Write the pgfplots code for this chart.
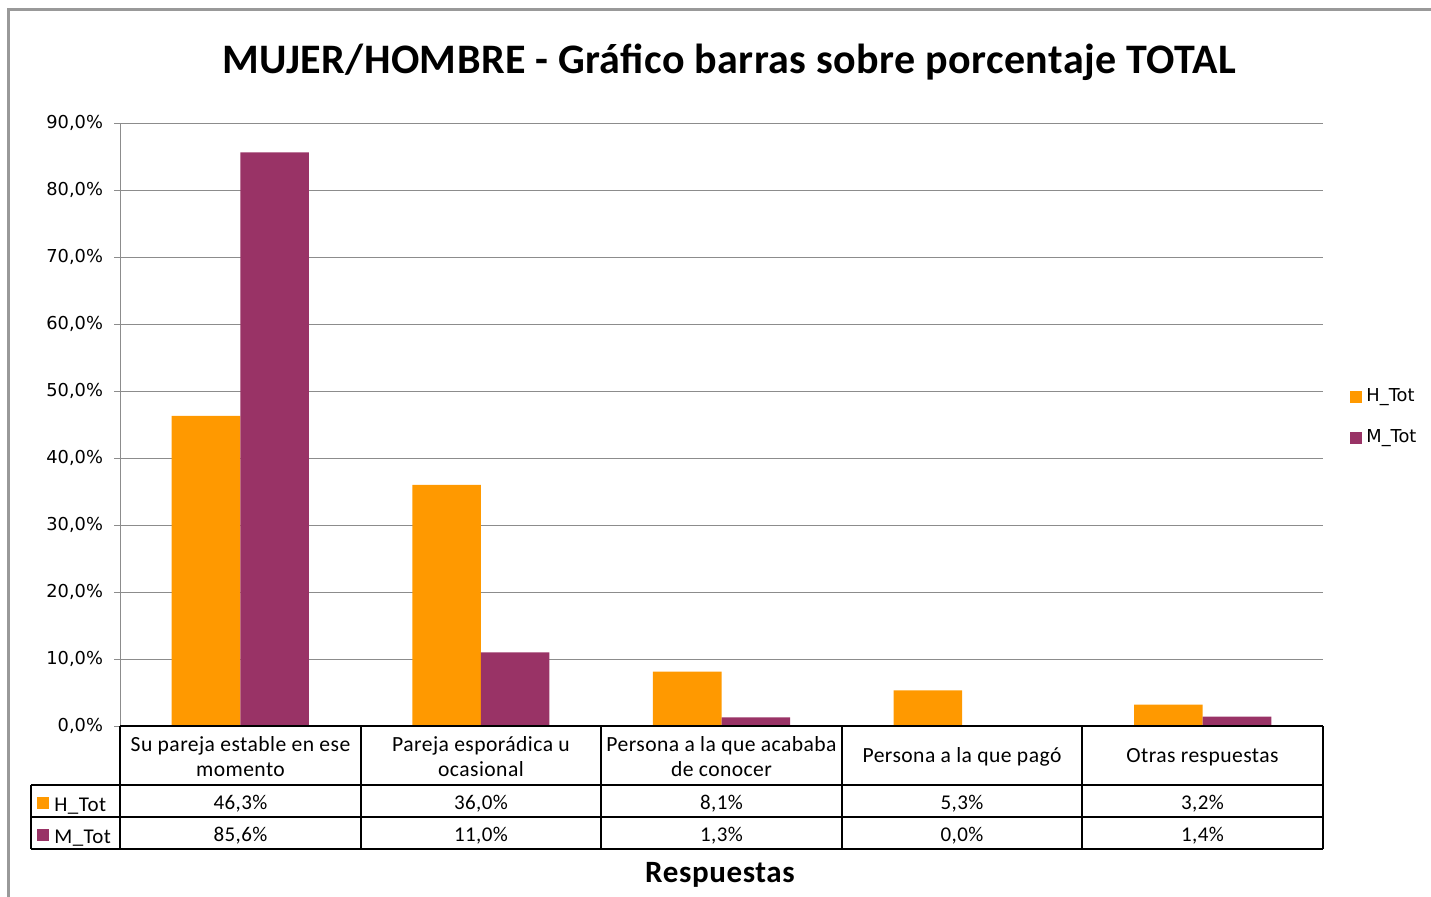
\documentclass[border=0pt]{standalone}
\usepackage{pgfplots}
\pgfplotsset{compat=1.18}
\usepackage{pgfplotstable}
\usepackage{fontspec}
\setmainfont{Carlito}
\newfontfamily\vfont{DejaVu Sans}
\newfontfamily\tfont[LetterSpace=2]{Carlito}
\definecolor{htot}{HTML}{FF9900}
\definecolor{mtot}{HTML}{993366}
\definecolor{framegray}{HTML}{999999}
\definecolor{gridgray}{HTML}{8C8C8C}

% respuestas: H_Tot y M_Tot (%)
\pgfplotstableread{
idx H M
0 46.3 85.6
1 36.0 11.0
2 8.1 1.3
3 5.3 0.0
4 3.2 1.4
}\datos

\begin{document}
\begin{tikzpicture}
% axis box: x 120..1323 px, y 123..726 px (1 px = 0.5pt)
\begin{axis}[
  at={(60pt,85pt)}, anchor=south west,
  scale only axis,
  width=601.5pt, height=301.5pt,
  xmin=-0.5, xmax=4.5,
  ymin=0, ymax=90,
  ybar, bar width=0.285,
  axis x line=none,
  axis y line=left,
  y axis line style={gridgray, -},
  ytick={0,10,...,90},
  ymajorgrids,
  grid style={gridgray, line width=0.5pt},
  tick align=outside,
  major tick length=3pt,
  ytick style={gridgray},
  yticklabel={\pgfmathprintnumber[fixed,fixed zerofill,precision=1,use comma]{\tick}\%},
  yticklabel style={font=\vfont\fontsize{8.9}{10}\selectfont, xshift=-2pt,
    /pgf/number format/assume math mode=true},
  legend style={draw=none, fill=none, at={(1.0225,0.512)}, anchor=west,
    font=\vfont\fontsize{8.9}{10}\selectfont, row sep=8.5pt, inner xsep=0pt},
  legend cell align=left,
  clip=false,
]
\addplot[fill=htot, draw=none, bar shift=-0.1425,
  legend image code/.code={\fill[htot] (0pt,-3pt) rectangle (6pt,3pt);}]
  table[x=idx, y=H] {\datos};
\addplot[fill=mtot, draw=none, bar shift=0.1425,
  legend image code/.code={\fill[mtot] (0pt,-3pt) rectangle (6pt,3pt);}]
  table[x=idx, y=M] {\datos};
\legend{H\_Tot, M\_Tot}
\end{axis}

\begin{scope}[x=0.5pt, y=-0.5pt, yshift=448pt]
\useasboundingbox (0,0) rectangle (1431,896);
% marco exterior
\draw[framegray, line width=1.5pt] (8,905) -- (8,10) -- (1440,10);
% titulo
\node[font=\bfseries\fontsize{21}{24}\selectfont\addfontfeature{LetterSpace=1}] at (729,62)
  {MUJER/HOMBRE - Gráfico barras sobre porcentaje TOTAL};
% tabla de datos
\draw[black, line width=0.7pt] (120,726) -- (1323,726);
\foreach \yy in {785,817,849} \draw[black, line width=0.7pt] (31,\yy) -- (1323,\yy);
\draw[black, line width=0.7pt] (31,785) -- (31,849);
\foreach \xx in {120,361,601,842,1082,1323} \draw[black, line width=0.7pt] (\xx,726) -- (\xx,849);
\begin{scope}[every node/.style={font=\tfont\fontsize{10.8}{12.5}\selectfont, align=center}]
\node at (240.5,757) {Su pareja estable en ese\\momento};
\node at (481,757) {Pareja esporádica u\\ocasional};
\node at (721.5,757) {Persona a la que acababa\\de conocer};
\node at (962,757) {Persona a la que pagó};
\node at (1202.5,757) {Otras respuestas};
\end{scope}
\begin{scope}[every node/.style={font=\tfont\fontsize{10.5}{12}\selectfont}]
\node at (240.5,804) {46,3\%};
\node at (481,804) {36,0\%};
\node at (721.5,804) {8,1\%};
\node at (962,804) {5,3\%};
\node at (1202.5,804) {3,2\%};
\node at (240.5,836) {85,6\%};
\node at (481,836) {11,0\%};
\node at (721.5,836) {1,3\%};
\node at (962,836) {0,0\%};
\node at (1202.5,836) {1,4\%};
\node[anchor=west, inner xsep=0pt] at (54,806) {H\_Tot};
\node[anchor=west, inner xsep=0pt] at (54,838) {M\_Tot};
\end{scope}
\fill[htot] (37,797) rectangle (49,809);
\fill[mtot] (37,829) rectangle (49,841);
% titulo del eje
\node[font=\bfseries\fontsize{15.5}{18}\selectfont\addfontfeature{LetterSpace=2}] at (720,875) {Respuestas};
\end{scope}
\end{tikzpicture}
\end{document}
